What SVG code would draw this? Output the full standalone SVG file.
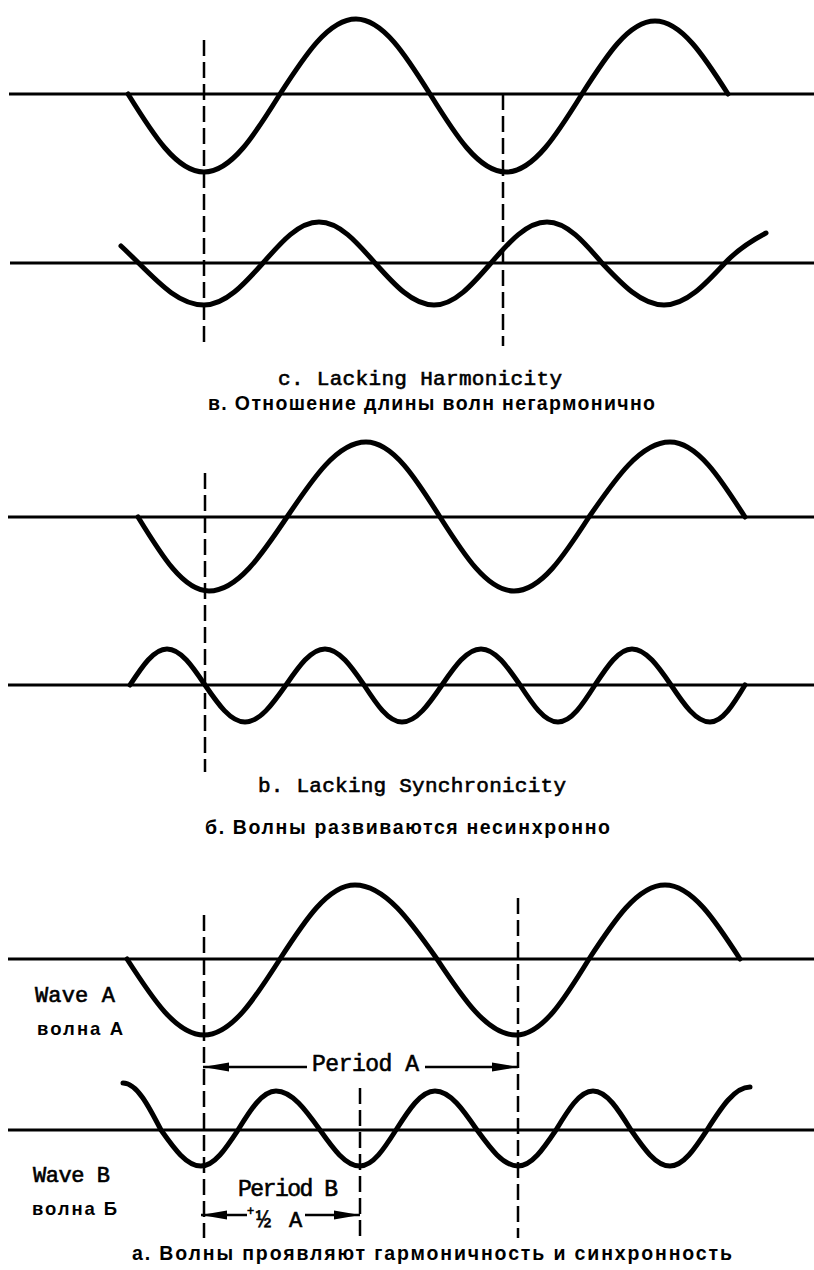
<svg xmlns="http://www.w3.org/2000/svg" width="814" height="1270" viewBox="0 0 814 1270">
<defs>
<style>
.ax{stroke:#000;stroke-width:3;fill:none}
.wv{stroke:#000;stroke-width:5;fill:none;stroke-linecap:round;stroke-linejoin:round}
.dash{stroke:#000;stroke-width:2.5;stroke-dasharray:16 6;fill:none}
.dim{stroke:#000;stroke-width:2.5;fill:none}
.en{font-family:"Liberation Mono","DejaVu Sans Mono",monospace;fill:#000;stroke:#000;stroke-width:0.6}
.ru{font-family:"Liberation Sans",Arial,sans-serif;font-weight:bold;fill:#000}
</style>
<marker id="ah" viewBox="0 0 26 10" refX="26" refY="5" markerWidth="26" markerHeight="10" markerUnits="userSpaceOnUse" orient="auto-start-reverse">
<path d="M0,0.5 L26,5 L0,9.5 Z" fill="#000"/>
</marker>
</defs>
<rect width="814" height="1270" fill="#fff"/>

<!-- Panel c: Lacking Harmonicity -->
<g id="panel-c">
<g id="c-axis-a"><line class="ax" x1="9" y1="94" x2="814" y2="94"/></g>
<g id="c-wave-a"><path class="wv" d="M128,94 c24.8,40 48.5,78 76,78 c27.5,0 51.2,-38 76,-78 c24.8,-38.4 48.5,-75 76,-75 c26.8,0 49.9,36.6 74,75 c24.8,40 48.5,78 76,78 c27.5,0 51.2,-38 76,-78 c23.8,-37.4 46.6,-73 73,-73 c26.4,0 49.2,35.6 73,73"/></g>
<g id="c-axis-b"><line class="ax" x1="10" y1="263" x2="814" y2="263"/></g>
<g id="c-wave-b"><path class="wv" d="M121,246 C151,273.6 174,305 204,305 c21.4,0 39.8,-20.5 59,-42 c18.3,-21 35.7,-41 56,-41 c20.3,0 37.7,20 56,41 c19.2,21.5 37.6,42 59,42 c20.6,0 38.4,-20.5 57,-42 c18.3,-21 35.7,-41 56,-41 c19.9,0 37.1,20 55,41 c20.2,21.5 39.6,42 62,42 c22.1,0 41.1,-20.5 61,-42 C739,248 752,240.3 766,233"/></g>
<g id="c-title">
<text class="en" x="278" y="385" font-size="21" textLength="284" lengthAdjust="spacing">c. Lacking Harmonicity</text>
<text class="ru" x="208" y="410" font-size="19.5" textLength="447" lengthAdjust="spacing">в. Отношение длины волн негармонично</text>
</g>
</g>

<!-- Panel b: Lacking Synchronicity -->
<g id="panel-b">
<g id="b-axis-a"><line class="ax" x1="8" y1="517" x2="814" y2="517"/></g>
<g id="b-wave-a"><path class="wv" d="M138,517 c23.2,37.9 45.3,74 71,74 c28.2,0 52.6,-36.1 78,-74 c25.8,-38.4 50.4,-75 79,-75 c26.8,0 49.9,36.6 74,75 c24.1,37.9 47.2,74 74,74 c27.1,0 50.5,-36.1 75,-74 c26.4,-38.4 51.7,-75 81,-75 c27.1,0 50.5,36.6 75,75"/></g>
<g id="b-axis-b"><line class="ax" x1="8" y1="685" x2="814" y2="685"/></g>
<g id="b-wave-b"><path class="wv" d="M130,685 c12.1,-18.4 23.6,-36 37,-36 c13.8,0 25.6,17.6 38,36 c13,19 25.5,37 40,37 c14.8,0 27.6,-18 41,-37 c12.7,-18.4 24.9,-36 39,-36 c14.1,0 26.3,17.6 39,36 c12.4,19 24.2,37 38,37 c14.5,0 27,-18 40,-37 c12.7,-18.4 24.9,-36 39,-36 c14.1,0 26.3,17.6 39,36 c12.4,19 24.2,37 38,37 c13.4,0 24.9,-18 37,-37 c12.1,-18.4 23.6,-36 37,-36 c14.1,0 26.3,17.6 39,36 c12.7,19 24.9,37 39,37 c12.7,0 23.6,-18 35,-37"/></g>
<g id="b-title">
<text class="en" x="258" y="792" font-size="21" textLength="308" lengthAdjust="spacing">b. Lacking Synchronicity</text>
<text class="ru" x="205" y="834" font-size="19.5" textLength="405" lengthAdjust="spacing">б. Волны развиваются несинхронно</text>
</g>
</g>

<!-- Panel a: harmonic and synchronous -->
<g id="panel-a">
<g id="a-axis-a"><line class="ax" x1="8" y1="959" x2="814" y2="959"/></g>
<g id="a-wave-a"><path class="wv" d="M127,959 c25.1,38.9 49.1,76 77,76 c27.5,0 51.2,-37.1 76,-76 c24.5,-37.9 47.9,-74 75,-74 c29.7,0 55.3,36.1 82,74 c25.8,38.9 50.4,76 79,76 c26.4,0 49.2,-37.1 73,-76 c24.8,-37.9 48.5,-74 76,-74 c27.1,0 50.5,36.1 75,74"/></g>
<g id="a-axis-b"><line class="ax" x1="8" y1="1130" x2="814" y2="1130"/></g>
<g id="a-wave-b"><path class="wv" d="M123,1083 c13.8,0 25.6,22.9 38,47 c13,18.4 25.5,36 40,36 c13.4,0 24.9,-17.6 37,-36 c12.4,-20 24.2,-39 38,-39 c15.9,0 29.7,19 44,39 c13,18.4 25.5,36 40,36 c13,0 24.3,-17.6 36,-36 c12.7,-20 24.9,-39 39,-39 c15.2,0 28.3,19 42,39 c13.4,18.4 26.2,36 41,36 c13.8,0 25.6,-17.6 38,-36 c12.1,-20 23.6,-39 37,-39 c13.8,0 25.6,19 38,39 c12.7,18.4 24.9,36 39,36 c13.4,0 24.9,-17.6 37,-36 c14,-22 27.4,-43 43,-43"/></g>
<g id="a-label-wave-a">
<text class="en" x="35" y="1002" font-size="22" textLength="80" lengthAdjust="spacing">Wave A</text>
<text class="ru" x="37" y="1035" font-size="18.5" textLength="86" lengthAdjust="spacing">волна А</text>
</g>
<g id="a-label-wave-b">
<text class="en" x="33" y="1182" font-size="22" textLength="77" lengthAdjust="spacing">Wave B</text>
<text class="ru" x="32" y="1215" font-size="18.5" textLength="85" lengthAdjust="spacing">волна Б</text>
</g>
<g id="a-label-period-a">
<text class="en" x="312" y="1071" font-size="23" textLength="107" lengthAdjust="spacing">Period A</text>
</g>
<g id="a-label-period-b">
<text class="en" x="238" y="1196" font-size="23" textLength="100" lengthAdjust="spacing">Period B</text>
<text class="en" x="247" y="1215" font-size="12">+</text>
<text class="en" x="256" y="1227" font-size="25">½</text>
<text class="en" x="289" y="1227" font-size="22">A</text>
</g>
<g id="a-title">
<text class="ru" x="132" y="1260" font-size="19.5" textLength="600" lengthAdjust="spacing">а. Волны проявляют гармоничность и синхронность</text>
</g>
</g>

<!-- Connectors: dashed reference lines and dimension arrows -->
<g id="connectors">
<line class="dash" x1="204" y1="40" x2="204" y2="348"/>
<line class="dash" x1="503" y1="94" x2="503" y2="346"/>
<line class="dash" x1="205" y1="473" x2="205" y2="772"/>
<line class="dash" x1="204" y1="915" x2="204" y2="1238"/>
<line class="dash" x1="518" y1="898" x2="518" y2="1238"/>
<line class="dash" x1="360" y1="1088" x2="360" y2="1238"/>
<line class="dim" x1="203" y1="1067" x2="307" y2="1067" marker-start="url(#ah)"/>
<line class="dim" x1="425" y1="1067" x2="518" y2="1067" marker-end="url(#ah)"/>
<line class="dim" x1="201" y1="1215" x2="247" y2="1215" marker-start="url(#ah)"/>
<line class="dim" x1="305" y1="1215" x2="360" y2="1215" marker-end="url(#ah)"/>
</g>
</svg>
